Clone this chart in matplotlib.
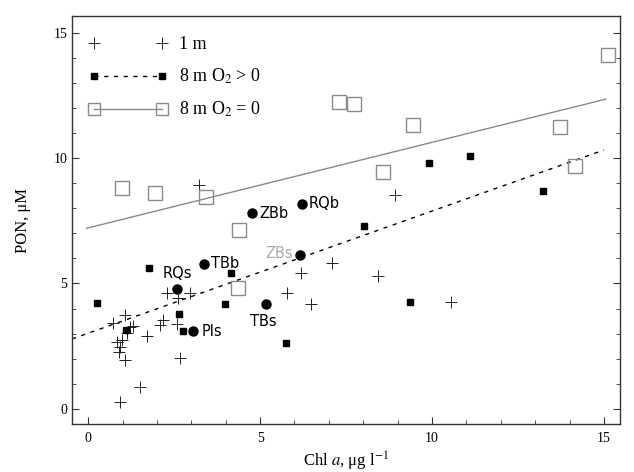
import matplotlib
matplotlib.use("Agg")
import matplotlib.pyplot as plt
from matplotlib.ticker import MultipleLocator
from matplotlib.lines import Line2D

plt.rcParams['font.family'] = ['Liberation Serif', 'DejaVu Serif']
plt.rcParams['mathtext.fontset'] = 'stix'

# 1 m samples (plus markers)
x_1m = [0.93, 1.51, 2.67, 1.08, 0.90, 0.93, 0.99, 0.84, 1.13, 1.22, 1.08, 1.71,
        2.09, 2.18, 2.58, 2.30, 2.62, 2.97, 0.73, 1.30, 3.23, 8.92, 7.09, 6.19,
        8.43, 5.78, 6.48, 10.55]
y_1m = [0.28, 0.88, 2.03, 1.95, 2.27, 2.47, 2.75, 2.67, 3.03, 3.27, 3.74, 2.90,
        3.35, 3.55, 3.39, 4.62, 4.42, 4.62, 3.43, 3.30, 8.92, 8.53, 5.82, 5.42,
        5.30, 4.62, 4.18, 4.26]

# 8 m, O2 > 0 (filled squares)
x_pos = [0.26, 1.77, 4.16, 3.98, 2.65, 2.76, 1.10, 5.76, 8.02, 9.91, 11.10, 13.23, 9.36]
y_pos = [4.22, 5.62, 5.42, 4.18, 3.78, 3.10, 3.15, 2.64, 7.29, 9.80, 10.08, 8.69, 4.26]

# 8 m, O2 = 0 (open squares)
x_zero = [0.99, 1.95, 3.43, 4.39, 4.37, 7.30, 7.73, 9.45, 8.58, 13.72, 14.16, 15.12]
y_zero = [8.80, 8.60, 8.45, 7.13, 4.82, 12.23, 12.15, 11.30, 9.45, 11.23, 9.68, 14.10]

# labelled stations (filled circles)
st_names = ['ZBb', 'RQb', 'TBb', 'RQs', 'Pls', 'TBs', 'ZBs']
st_x = [4.77, 6.22, 3.37, 2.59, 3.05, 5.17, 6.16]
st_y = [7.80, 8.17, 5.78, 4.78, 3.10, 4.18, 6.14]

# regression line endpoints
fit_pos_x = [-0.47, 15.0]
fit_pos_y = [2.79, 10.32]
fit_zero_x = [-0.05, 15.06]
fit_zero_y = [7.20, 12.35]

GRAY = '#8a8a8a'

fig = plt.figure(figsize=(6.34, 4.72), dpi=100)
ax = fig.add_axes([0.1136, 0.1017, 0.8644, 0.8643])

ax.plot(fit_zero_x, fit_zero_y, '-', color=GRAY, lw=1.0)
ax.plot(fit_pos_x, fit_pos_y, '--', color='black', lw=1.0, dashes=(3, 4))

ax.plot(x_1m, y_1m, '+', color='#222222', ms=8.5, mew=0.7, ls='none')
ax.plot(x_pos, y_pos, 's', color='black', ms=4.5, ls='none')
ax.plot(x_zero, y_zero, 's', mfc='none', mec=GRAY, mew=1.0, ms=10, ls='none')
ax.plot(st_x, st_y, 'o', color='black', ms=6.5, ls='none')

offsets = {
    'ZBb': ((5, 0), 'left', 'center'),
    'RQb': ((5, 0), 'left', 'center'),
    'TBb': ((5, 0), 'left', 'center'),
    'RQs': ((0, 6), 'center', 'bottom'),
    'Pls': ((6, 0), 'left', 'center'),
    'TBs': ((-2, -7), 'center', 'top'),
    'ZBs': ((-5, 1), 'right', 'center'),
}
for n, xx, yy in zip(st_names, st_x, st_y):
    off, ha, va = offsets[n]
    ax.annotate(n, (xx, yy), xytext=off, textcoords='offset points',
                ha=ha, va=va, fontsize=10.5, family=['DejaVu Sans'],
                color='#aaaaaa' if n == 'ZBs' else 'black')

ax.set_xlim(-0.47, 15.47)
ax.set_ylim(-0.6, 15.66)
ax.xaxis.set_major_locator(MultipleLocator(5))
ax.yaxis.set_major_locator(MultipleLocator(5))
ax.xaxis.set_minor_locator(MultipleLocator(1))
ax.yaxis.set_minor_locator(MultipleLocator(1))
ax.tick_params(which='both', direction='in', top=False, right=True,
               labelsize=10, color='#333333')
ax.tick_params(which='major', length=5, width=0.8)
ax.tick_params(which='minor', length=3, width=0.6)
ax.tick_params(axis='x', pad=6)
for s in ax.spines.values():
    s.set_linewidth(1.0)
    s.set_color('#333333')

ax.set_xlabel(r'Chl $\mathit{a}$, μg l$^{-1}$', fontsize=12, labelpad=3)
ax.set_ylabel('PON, μM', fontsize=12, labelpad=16)

handles = [
    Line2D([0], [0], ls='none', marker='+', color='#222222', ms=8, mew=0.7),
    Line2D([0], [0], ls='--', dashes=(3, 4), color='black', lw=1.0, marker='s', ms=4),
    Line2D([0], [0], ls='-', color=GRAY, lw=1.0, marker='s', mfc='none', mec=GRAY, ms=9),
]
labels = ['1 m', r'8 m O$_2$ > 0', r'8 m O$_2$ = 0']
ax.legend(handles, labels, loc='upper left', frameon=False, numpoints=2,
          handlelength=4.4, fontsize=13, labelspacing=0.75,
          bbox_to_anchor=(0.0, 0.99), handletextpad=0.6)

fig.savefig('out.png', dpi=100)
